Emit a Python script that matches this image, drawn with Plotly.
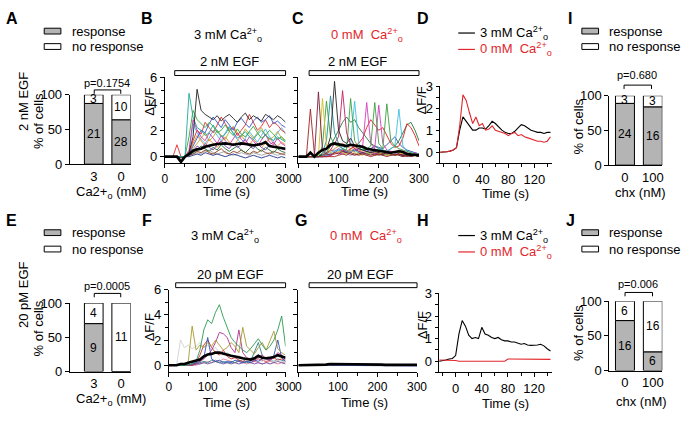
import plotly.graph_objects as go

# ---------------- DATA ----------------
# Bar panels: % responding cells and cell counts
A_CATS = ["3", "0"]
A_RESP_PCT = [87.5, 64]
A_RESP_N = [21, 28]
A_NORESP_N = [3, 10]
A_P = "p=0.1754"

E_CATS = ["3", "0"]
E_RESP_PCT = [70, 0]
E_RESP_N = [9, None]
E_NORESP_N = [4, 11]
E_P = "p=0.0005"

I_CATS = ["0", "100"]
I_RESP_PCT = [89, 84]
I_RESP_N = [24, 16]
I_NORESP_N = [3, 3]
I_P = "p=0.680"

J_CATS = ["0", "100"]
J_RESP_PCT = [72, 27]
J_RESP_N = [16, 6]
J_NORESP_N = [6, 16]
J_P = "p=0.006"

# Time axis of single-cell traces (s)
T_CELL = [0, 10, 20, 30, 40, 50, 60, 70, 80, 90, 100, 110, 120, 130, 140, 150,
          160, 170, 180, 190, 200, 210, 220, 230, 240, 250, 260, 270, 280, 290, 300]

# Panel B: 3 mM Ca, 2 nM EGF
B_BLACK = [0,0,0,0,-0.1,0,0.3,1.5,5.1,3.5,3.2,3.0,2.8,3.1,2.7,3.0,3.2,2.9,2.6,3.0,3.3,2.8,3.1,2.9,2.7,3.2,3.0,2.8,3.1,2.9,2.6]
B_TEAL = [0,0,0,0,0,0,4.8,3.0,2.2,2.0,1.6,1.8,2.4,1.9,1.5,1.7,2.2,1.8,1.4,1.6,1.9,1.5,1.3,1.7,2.0,1.6,1.4,1.2,1.5,1.3,1.1]
B_GREEN = [0,0,0,0,0,0,1.5,3.5,2.8,2.5,2.2,2.6,2.3,1.8,2.0,2.4,1.9,1.6,2.1,1.7,1.5,1.9,2.3,1.8,1.4,1.6,2.0,1.7,1.3,1.5,1.2]
B_BLUE = [0,0,0,0,0,0,0.2,0.8,1.5,2.0,1.8,2.5,3.0,2.6,2.2,2.8,2.4,2.0,2.6,2.9,2.5,2.2,2.7,3.0,2.6,2.8,3.1,2.5,2.7,2.4,2.2]
B_RED = [0,0,0,0.9,0,0,0.3,1.2,2.0,1.7,2.6,2.2,1.8,2.4,3.0,2.5,2.0,2.2,1.6,2.0,2.4,3.2,2.6,2.0,2.3,2.8,2.2,2.6,2.4,2.0,1.8]
B_MAGENTA = [0,0,0,0,0,0,0.5,2.8,2.0,1.5,1.2,1.8,1.4,1.0,1.6,1.2,0.9,1.4,1.8,1.3,1.0,1.5,1.2,0.8,1.3,1.7,1.1,0.9,1.4,1.0,0.8]
B_OLIVE = [0,0,0,0,0,0,0.2,0.6,1.0,1.4,1.8,1.2,1.5,2.0,1.6,1.3,1.9,2.3,1.8,1.5,2.1,1.7,1.4,1.8,2.2,1.6,1.3,1.5,1.9,1.4,1.2]
B_CYAN = [0,0,0,0,0,0,0.3,2.5,1.8,1.3,1.0,1.4,2.0,1.6,1.2,1.8,2.3,1.7,1.3,1.0,1.4,1.9,1.5,1.1,1.6,2.1,1.5,1.2,1.8,2.2,1.7]
B_PURPLE = [0,0,0,0,0,0,0.1,0.4,0.8,0.6,1.0,0.7,0.5,0.9,1.2,0.8,0.6,1.0,0.7,0.9,1.3,0.8,0.6,1.0,0.7,0.5,0.9,1.1,0.7,0.6,0.5]
B_ORANGE = [0,0,0,0,0,0,0.2,1.0,1.6,1.2,0.8,1.3,1.0,0.7,1.1,1.5,1.1,0.8,1.2,1.6,1.2,0.9,1.3,1.0,0.7,1.0,1.4,1.0,0.8,1.1,0.9]
B_DKGREEN = [0,0,0,0,0,0,0.1,0.3,0.5,0.8,0.6,0.4,0.7,0.5,0.9,0.6,0.4,0.6,0.8,0.5,0.3,0.6,0.9,0.6,0.4,0.7,0.5,0.3,0.6,0.4,0.3]
B_BROWN = [0,0,0,0,0,0,0.1,0.2,0.4,0.3,0.5,0.3,0.2,0.4,0.6,0.3,0.2,0.4,0.3,0.5,0.3,0.2,0.4,0.3,0.5,0.3,0.2,0.4,0.3,0.2,0.2]
B_NAVY = [0,0,0,0,0,0,0,0.1,0.2,0.1,0.3,0.2,0.1,0.2,0.1,0,0.1,0.2,0.1,0,-0.1,0,0.1,0,-0.1,0,0.1,0,-0.1,0,-0.1]
B_GRAY = [0,0,0,0,0,0,0.1,0.2,0.3,0.2,0.4,0.5,0.3,0.2,0.3,0.4,0.2,0.1,0.2,0.3,0.2,0.1,0.3,0.2,0.1,0.2,0.3,0.2,0.1,0.2,0.1]
B_MEAN = [0,0,0,0,-0.4,0,0.2,0.45,0.55,0.6,0.75,0.85,0.9,0.95,1.0,1.0,0.95,0.9,0.95,1.0,0.95,0.9,0.85,0.9,0.95,1.1,0.8,0.75,0.7,0.65,0.6]

# Panel C: 0 mM Ca, 2 nM EGF
C_DKRED = [0,0,0,3.6,0.2,0,0,0,0,0,0.1,0.2,0.1,0.3,0.2,0.1,0.2,0.1,0,0.1,0.2,0.1,0,0.1,0.2,0.1,0,0.1,0,0.1,0]
C_MAROON = [0,0,0,0,0,4.9,0.5,0.2,0.1,0.3,0.2,0.4,0.3,0.2,0.1,0.2,0.3,0.2,0.1,0.2,0.1,0.2,0.3,0.2,0.1,0.2,0.1,0,0.1,0.2,0.1]
C_YELLOW = [0,0,0,0,0,0.1,4.4,0.8,0.3,0.2,0.4,0.3,0.2,0.5,0.3,0.2,0.1,0.3,0.2,0.1,0.2,0.3,0.1,0.2,0.1,0.2,0.3,0.1,0.2,0.1,0.1]
C_BLACK = [0,0,0,0,0,0,0.2,0.5,1.5,5.7,2.0,1.2,1.0,1.4,0.8,0.6,0.5,0.4,0.3,0.4,0.3,0.2,0.3,0.2,0.1,0.2,0.1,0.2,0.1,0.1,0]
C_TEAL = [0,0,0,0,0,0,0.3,1.2,4.6,1.8,1.0,0.6,0.4,0.3,0.5,0.3,0.2,0.3,0.2,0.1,0.2,0.1,0.2,0.1,0.2,0.1,0,0.1,0,0.1,0]
C_ROSE = [0,0,0,0,0,0,0,0.2,0.5,1.0,1.5,5.0,1.8,0.9,0.6,0.4,0.3,0.4,0.3,0.2,0.3,0.2,0.1,0.2,0.1,0.2,0.1,0.1,0.2,0.1,0.1]
C_GREEN = [0,0,0,0,0,0,0.8,4.2,1.5,0.9,0.8,0.6,0.5,4.4,1.2,0.7,0.5,0.6,0.8,4.1,1.0,0.6,4.0,1.2,0.8,0.6,0.5,0.4,0.3,0.2,0.2]
C_CYAN = [0,0,0,0,0,0,0,0.1,0.3,0.5,0.4,0.6,0.8,1.0,4.2,1.0,0.6,0.4,0.3,0.4,0.6,0.5,0.4,0.6,0.8,3.6,0.8,0.4,0.3,0.2,0.2]
C_MAGENTA = [0,0,0,0,0,0,0,0,0.1,0.2,0.3,0.2,0.4,0.3,0.5,0.6,0.8,4.1,1.0,0.6,3.9,1.0,0.5,0.4,0.3,0.5,0.4,0.3,0.2,0.3,0.2]
C_RED = [0,0,0,0,0,0,0,0,0.1,0.2,0.3,0.5,0.4,0.6,0.8,1.0,1.4,2.2,2.8,2.4,2.0,2.2,1.6,1.0,0.7,0.8,1.4,2.5,2.2,1.6,0.8]
C_DKGREEN = [0,0,0,0,0,0,0.1,0.3,0.8,1.4,2.0,2.6,3.0,2.6,2.8,2.2,1.8,1.4,1.0,0.8,0.6,0.5,0.4,0.6,0.8,1.2,1.8,2.4,2.6,2.0,1.2]
C_BLUE = [0,0,0,0,0,0,0,0.1,0.2,0.3,0.5,0.4,0.3,0.5,0.4,0.6,0.5,0.4,0.6,0.8,0.7,0.6,0.9,1.2,1.5,1.0,0.7,0.5,0.4,0.3,0.2]
C_ORANGE = [0,0,0,0,0,0,0.1,0.2,0.4,0.6,0.8,1.0,0.8,0.6,0.7,0.5,0.4,0.6,0.5,0.3,0.4,0.5,0.3,0.2,0.4,0.3,0.2,0.3,0.2,0.1,0.1]
C_PURPLE = [0,0,0,0,0,0,0.1,0.3,0.5,0.4,0.6,0.5,0.3,0.4,0.6,0.4,0.3,0.2,0.4,0.3,0.2,0.3,0.2,0.4,0.3,0.2,0.1,0.2,0.1,0.1,0]
C_GRAY = [0,0,0,0,0,0,0,0.1,0.2,0.3,0.2,0.3,0.2,0.1,0.2,0.3,0.2,0.1,0.2,0.1,0.2,0.1,0.2,0.1,0.1,0.2,0.1,0.1,0,0.1,0]
C_MEAN = [0,0,0,0.3,0,0.3,0.5,0.6,0.9,1.0,0.95,0.9,0.8,0.9,0.85,0.8,0.75,0.6,0.55,0.45,0.45,0.4,0.35,0.3,0.35,0.4,0.35,0.2,0.15,0.15,0.1]

# Panel F: 3 mM Ca, 20 pM EGF
F_GREEN = [0,0,0,0,0,0,0.1,0.3,1.2,2.8,3.6,3.3,4.2,4.8,3.8,3.0,2.2,1.8,1.5,1.2,1.0,1.3,1.7,2.1,1.6,1.2,1.5,2.0,2.8,3.9,1.5]
F_OLIVE = [0,0,0,0,0,0.3,3.1,1.2,1.6,1.4,1.8,1.5,2.0,1.6,1.2,1.4,1.8,1.5,1.0,3.0,1.5,1.2,0.9,1.4,1.8,1.2,2.0,2.7,1.3,1.0,0.8]
F_LTGRAY = [0,0,0,2.0,1.4,1.6,1.3,1.5,1.8,1.4,1.6,1.2,1.4,1.0,0.8,1.0,0.7,0.6,0.8,0.5,0.4,0.6,0.5,0.4,0.3,0.5,0.4,0.3,0.4,0.3,0.3]
F_BLUE = [0,0,0,0,0,0,0.1,0.2,0.3,0.6,2.2,0.5,0.3,0.4,0.2,0.3,0.2,0.4,0.3,0.2,0.3,0.2,0.4,0.3,0.5,0.6,0.4,0.8,2.0,0.6,0.3]
F_MAGENTA = [0,0,0,0,0,0,0,0.1,0.3,0.5,0.8,1.2,1.8,2.6,2.5,2.2,1.4,1.0,2.8,1.0,0.6,0.5,0.4,0.6,0.8,0.5,0.4,0.6,1.0,0.8,0.5]
F_RED = [0,0,0,0,0,0,0,0.2,0.8,1.6,2.0,1.4,1.0,0.8,1.2,0.7,0.5,0.6,0.4,0.3,0.5,0.4,0.3,0.5,0.4,0.3,0.4,0.6,0.4,0.5,0.4]
F_TEAL = [0,0,0,0,0,0,0.1,0.1,0.2,0.3,0.2,0.4,0.3,0.2,0.3,0.2,0.3,0.2,0.4,0.3,0.2,0.3,1.0,1.8,0.8,0.5,0.4,0.3,0.5,0.4,0.3]
F_PURPLE = [0,0,0,0,0,0,0,0.1,0.1,0.2,0.1,0.2,0.3,0.2,0.1,0.2,0.1,0.2,0.1,0.2,0.3,0.2,0.1,0.2,0.1,0.2,0.1,0.2,0.3,0.2,0.1]
F_PINK = [0,0,0,0,0,0,0,0,0.1,0.2,0.3,0.2,0.4,0.3,0.5,0.4,0.3,0.2,0.3,0.2,0.1,0.2,0.3,0.2,0.1,0.2,0.3,0.2,0.1,0.2,0.2]
F_MEAN = [0,0,0,0.1,0.1,0.2,0.3,0.35,0.45,0.7,0.85,0.9,1.0,1.0,0.9,0.85,0.75,0.7,0.6,0.55,0.5,0.45,0.55,0.75,0.6,0.55,0.6,0.65,0.8,0.7,0.6]

# Panel G: 0 mM Ca, 20 pM EGF
G_OLIVE = [0,0,0,0,0,0,0,0,0,0,0,0,0,0,0,0,0,0,0,0,0,0,0.05,0.05,0.05,0.05,0.05,0.05,0.05,0.05,0.05]
G_BLUE = [0,0,0,0,0,0,0,0,0,0,0,0,0,0,0,0,0,0,0,0,0,0,-0.05,-0.05,-0.05,-0.05,-0.05,-0.05,-0.05,-0.05,-0.05]
G_MEAN = [0,0,0,0,0,0,0,0.05,0.1,0.1,0.1,0.1,0.1,0.1,0.1,0.1,0.1,0.1,0.1,0.08,0.05,0.05,0.03,0.03,0.03,0.03,0.03,0.03,0.03,0.03,0.03]

# Panels D / H: averaged responses
T_AVG = [-25,-20,-15,-10,-5,0,5,10,15,20,25,30,35,40,45,50,55,60,65,70,75,80,85,90,95,100,105,110,115,120,125,130,135,140,145]
D_3MM = [0,0,0.02,0.05,0.1,0.2,1.0,1.6,1.4,1.15,1.0,1.0,1.1,1.1,1.05,1.2,1.4,1.3,1.15,1.0,0.9,0.85,0.85,0.95,1.1,1.25,1.2,1.1,1.0,0.95,0.9,0.9,0.85,0.9,0.9]
D_0MM = [0,0,0.02,0.05,0.1,0.2,1.2,2.6,2.35,1.8,1.3,1.6,1.2,1.3,1.0,1.05,1.2,1.0,0.95,0.9,0.85,0.75,0.85,0.9,0.75,0.8,0.7,0.65,0.6,0.55,0.5,0.5,0.45,0.5,0.7]
H_3MM = [0,0.02,0.05,0.1,0.12,0.25,1.2,1.8,1.55,1.15,1.0,1.05,1.0,1.5,1.2,1.15,1.05,1.0,1.05,0.95,0.9,0.9,0.85,0.85,0.8,0.75,0.78,0.72,0.7,0.7,0.72,0.75,0.68,0.55,0.45]
H_0MM = [0.05,0.05,0.05,0.05,0.05,0.03,0,0,0,0,0,0,0,0,0,0,0,0,0,0,0,0.1,0.1,0.1,0.1,0.1,0.1,0.1,0.1,0.1,0.1,0.1,0.08,0.08,0.08]

# ---------------- STYLE / LAYOUT ----------------
W, H = 689, 421
FONT = "Liberation Sans, Arial, Helvetica, sans-serif"
GRAY = "#b4b4b4"
RED = "#e3262b"
BAR_W = 0.68

fig = go.Figure()
LAY = {}


def nm(i, a):
    return f"{a}axis" if i == 1 else f"{a}axis{i}"


def rf(i, a):
    return a if i == 1 else f"{a}{i}"


def base_axis():
    return dict(showline=True, linecolor="black", linewidth=1,
                ticks="outside", ticklen=4, tickwidth=1, tickcolor="black",
                showgrid=False, zeroline=False, fixedrange=True,
                tickfont=dict(family=FONT, size=13, color="black"))


def setup(i, x0, x1, ytop, ybot, xr, yr, xkw, ykw):
    xa = base_axis()
    xa.update(domain=[x0 / W, x1 / W], range=xr, anchor=rf(i, "y"))
    xa.update(xkw)
    ya = base_axis()
    ya.update(domain=[1 - ybot / H, 1 - ytop / H], range=yr, anchor=rf(i, "x"))
    ya.update(ykw)
    LAY[nm(i, "x")] = xa
    LAY[nm(i, "y")] = ya


def txt(s, x, y, size=13, color="black", angle=0, xanchor="center", yanchor="middle"):
    fig.add_annotation(text=s, x=x / W, y=1 - y / H, xref="paper", yref="paper",
                       showarrow=False, textangle=angle, xanchor=xanchor, yanchor=yanchor,
                       borderpad=0, font=dict(family=FONT, size=size, color=color))


def rect(x0, y0, x1, y1, fill="white"):
    fig.add_shape(type="rect", xref="paper", yref="paper",
                  x0=x0 / W, x1=x1 / W, y0=1 - y1 / H, y1=1 - y0 / H,
                  line=dict(color="black", width=1), fillcolor=fill)


def seg(x0, y0, x1, y1, color="black", width=1):
    fig.add_shape(type="line", xref="paper", yref="paper",
                  x0=x0 / W, x1=x1 / W, y0=1 - y0 / H, y1=1 - y1 / H,
                  line=dict(color=color, width=width))


def bar_panel(i, x0, x1, ytop, ybot, xr, cats, resp, n_resp, n_no):
    setup(i, x0, x1, ytop, ybot, xr, [0, 100],
          dict(tickvals=[0, 1], ticktext=cats, ticks=""),
          dict(tickvals=[0, 50, 100]))
    pos = [0, 1]
    line = dict(color="black", width=1)
    fig.add_trace(go.Bar(x=pos, y=resp, width=BAR_W, marker=dict(color=GRAY, line=line),
                         xaxis=rf(i, "x"), yaxis=rf(i, "y"), hoverinfo="skip"))
    fig.add_trace(go.Bar(x=pos, y=[100 - r for r in resp], base=resp, width=BAR_W,
                         marker=dict(color="white", line=line),
                         xaxis=rf(i, "x"), yaxis=rf(i, "y"), hoverinfo="skip"))
    for k in pos:
        if n_resp[k]:
            fig.add_annotation(text=str(n_resp[k]), x=k, y=resp[k] / 2, xref=rf(i, "x"), yref=rf(i, "y"),
                               showarrow=False, font=dict(family=FONT, size=12, color="black"))
        fig.add_annotation(text=str(n_no[k]), x=k, y=(100 + resp[k]) / 2, xref=rf(i, "x"), yref=rf(i, "y"),
                           showarrow=False, font=dict(family=FONT, size=12, color="black"))


def cell_panel(i, x0, x1, ytop, ybot, series, mean, show_ylab):
    minor = dict(ticks="outside", ticklen=3, tickcolor="black", tickwidth=1, showgrid=False)
    setup(i, x0, x1, ytop, ybot, [0, 300], [-0.5, 6],
          dict(tickmode="linear", tick0=0, dtick=100, tickfont=dict(family=FONT, size=12, color="black"),
               minor=dict(minor, tick0=0, dtick=50)),
          dict(tickmode="linear", tick0=0, dtick=2, showticklabels=show_ylab,
               minor=dict(minor, tick0=0, dtick=1)))
    for ys, col in series:
        fig.add_trace(go.Scatter(x=T_CELL, y=ys, mode="lines", line=dict(color=col, width=0.9),
                                 xaxis=rf(i, "x"), yaxis=rf(i, "y"), hoverinfo="skip"))
    fig.add_trace(go.Scatter(x=T_CELL, y=mean, mode="lines", line=dict(color="black", width=2.6),
                             xaxis=rf(i, "x"), yaxis=rf(i, "y"), hoverinfo="skip"))


def avg_panel(i, x0, x1, ytop, ybot, black, red):
    minor = dict(ticks="outside", ticklen=3, tickcolor="black", tickwidth=1, showgrid=False)
    setup(i, x0, x1, ytop, ybot, [-26, 148], [-0.5, 3],
          dict(tickmode="linear", tick0=0, dtick=40, minor=dict(minor, tick0=0, dtick=20)),
          dict(tickmode="linear", tick0=0, dtick=1, ticklen=3, minor=dict(minor, tick0=0, dtick=0.5)))
    fig.add_trace(go.Scatter(x=T_AVG, y=black, mode="lines", line=dict(color="black", width=1.1),
                             xaxis=rf(i, "x"), yaxis=rf(i, "y"), hoverinfo="skip"))
    fig.add_trace(go.Scatter(x=T_AVG, y=red, mode="lines", line=dict(color=RED, width=1.1),
                             xaxis=rf(i, "x"), yaxis=rf(i, "y"), hoverinfo="skip"))


# --- bar panels A, E, I, J
bar_panel(1, 68, 130, 91, 163, [-0.875, 1.34], A_CATS, A_RESP_PCT, A_RESP_N, A_NORESP_N)
bar_panel(6, 68, 130, 307, 378, [-0.875, 1.34], E_CATS, E_RESP_PCT, E_RESP_N, E_NORESP_N)
bar_panel(5, 618, 672, 92, 164, [-0.56, 1.34], I_CATS, I_RESP_PCT, I_RESP_N, I_NORESP_N)
bar_panel(10, 618, 672, 305, 377, [-0.56, 1.34], J_CATS, J_RESP_PCT, J_RESP_N, J_NORESP_N)

# --- single-cell trace panels
cell_panel(2, 165, 288, 73, 162, [
    (B_GRAY, "#a0a0a0"), (B_NAVY, "#23338a"), (B_BROWN, "#8b3a1a"), (B_DKGREEN, "#1d6b30"),
    (B_ORANGE, "#f08a30"), (B_PURPLE, "#8040b0"), (B_CYAN, "#4fb8ea"), (B_OLIVE, "#b8a830"),
    (B_MAGENTA, "#cc33aa"), (B_RED, "#e03030"), (B_BLUE, "#3355cc"), (B_GREEN, "#3aa83a"),
    (B_TEAL, "#1fa89a"), (B_BLACK, "#222222")], B_MEAN, True)
cell_panel(3, 301, 424, 73, 162, [
    (C_GRAY, "#a0a0a0"), (C_PURPLE, "#7040a0"), (C_ORANGE, "#e08030"), (C_BLUE, "#3050b0"),
    (C_DKGREEN, "#207a3a"), (C_RED, "#e02020"), (C_MAGENTA, "#d040c0"), (C_CYAN, "#40c0e0"),
    (C_GREEN, "#3aa040"), (C_ROSE, "#c02060"), (C_TEAL, "#1f8f8f"), (C_BLACK, "#222222"),
    (C_YELLOW, "#d4c020"), (C_MAROON, "#7a1c3c"), (C_DKRED, "#a02020")], C_MEAN, False)
cell_panel(7, 169, 288, 293, 378, [
    (F_PINK, "#e080a0"), (F_PURPLE, "#7050a0"), (F_TEAL, "#2a8080"), (F_RED, "#d03030"),
    (F_LTGRAY, "#cfcfcf"), (F_BLUE, "#3050c0"), (F_MAGENTA, "#b03090"), (F_OLIVE, "#a89a30"),
    (F_GREEN, "#2a9a50")], F_MEAN, True)
cell_panel(8, 301, 422, 293, 378, [
    (G_OLIVE, "#c0b040"), (G_BLUE, "#3050c0")], G_MEAN, False)

# --- averaged panels D, H
avg_panel(4, 445, 560, 82, 162, D_3MM, D_0MM)
avg_panel(9, 444, 560, 297, 379, H_3MM, H_0MM)

# ---------------- TEXT & DECORATIONS ----------------
CA = "Ca<sup>2+</sup><sub>o</sub>"

# panel letters
for s, x, y in [("A", 9, 12), ("B", 147, 12), ("C", 301, 12), ("D", 428, 12), ("I", 578, 12),
                ("E", 9, 221), ("F", 147, 221), ("G", 304, 221), ("H", 428, 221), ("J", 578, 221)]:
    txt(f"<b>{s}</b>", x, y, size=16)

# bar panel legends
for (lx, ty1, ty2) in [(42, 25, 41), (42, 234, 251), (590, 25, 41), (590, 234, 251)]:
    rect(lx, ty1 - 3, lx + 17, ty1 + 3, fill=GRAY)
    rect(lx, ty2 - 3, lx + 17, ty2 + 3, fill="white")
    txt("response", lx + 27, ty1, size=13, xanchor="left")
    txt("no response", lx + 27, ty2, size=13, xanchor="left")

# p-values and brackets
for (p, cx, py_, bx0, bx1, by) in [(A_P, 106, 79, 93, 120, 86), (E_P, 106, 289, 93, 120, 297),
                                   (I_P, 646, 70, 633, 661, 81), (J_P, 647, 287, 634, 662, 296)]:
    txt(p, cx, py_, size=11)
    seg(bx0, by, bx1, by)
    seg(bx0, by, bx0, by + 4)
    seg(bx1, by, bx1, by + 4)

# y titles for bar panels
txt("% of cells", 36, 118, size=13, angle=-90)
txt("% of cells", 36, 333, size=13, angle=-90)
txt("% of cells", 587, 124, size=13, angle=-90)
txt("% of cells", 587, 338, size=13, angle=-90)
txt("2 nM EGF", 21, 98, size=13, angle=-90)
txt("20 pM EGF", 21, 298, size=13, angle=-90)

# x titles for bar panels
txt("Ca2+<sub>o</sub> (mM)", 110, 192, size=13)
txt("Ca2+<sub>o</sub> (mM)", 110, 407, size=13)
txt("chx (nM)", 650, 192, size=13)
txt("chx (nM)", 651, 409, size=13)

# trace panel titles and EGF bars
txt("3 mM " + CA, 229, 29, size=13)
txt("0 mM  " + CA, 371, 29, size=13, color=RED)
txt("3 mM " + CA, 226, 237, size=13)
txt("0 mM  " + CA, 370, 237, size=13, color=RED)
rect(175, 66, 288, 71)
rect(312, 66, 424, 71)
rect(176, 286, 288, 291)
rect(312, 286, 422, 291)
txt("2 nM EGF", 231, 57, size=13)
txt("2 nM EGF", 361, 57, size=13)
txt("20 pM EGF", 232, 277, size=13)
txt("20 pM EGF", 364, 277, size=13)

# Delta F/F titles
txt("ΔF/F", 149, 98, size=13, angle=-90)
txt("ΔF/F", 427, 97, size=13, angle=-90)
txt("ΔF/F", 149, 332, size=13, angle=-90)
txt("ΔF/F", 427, 330, size=13, angle=-90)

# Time titles
for x, y in [(228, 191), (368, 191), (512, 193), (228, 410), (368, 410), (512, 411)]:
    txt("Time (s)", x, y, size=13)

# legends of averaged panels
for (y1, y2) in [(27, 44), (237, 254)]:
    seg(464, y1, 481, y1, color="black", width=1.2)
    seg(464, y2, 481, y2, color=RED, width=1.2)
    txt("3 mM " + CA, 485, y1, size=13, xanchor="left")
    txt("0 mM  " + CA, 485, y2, size=13, color=RED, xanchor="left")

fig.update_layout(
    width=W, height=H, margin=dict(l=0, r=0, t=0, b=0), autosize=False,
    paper_bgcolor="white", plot_bgcolor="white", showlegend=False,
    barmode="overlay", font=dict(family=FONT, color="black"),
    **LAY,
)

fig.write_html("out.html", config={"displayModeBar": False},
               post_script="document.body.style.margin='0px';document.body.style.overflow='hidden';")
